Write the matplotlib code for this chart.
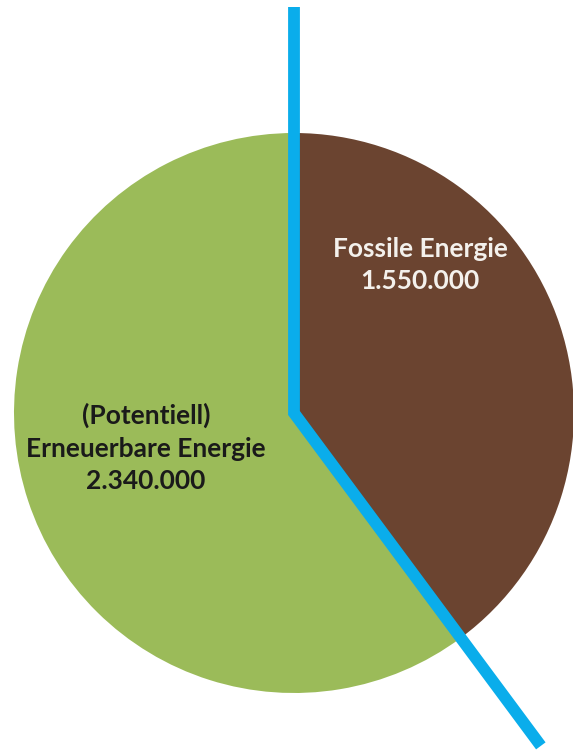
import numpy as np
import matplotlib
matplotlib.use("Agg")
import matplotlib.pyplot as plt

categories = ["Fossile Energie", "(Potentiell)\nErneuerbare Energie"]
values = [1550000, 2340000]
value_labels = ["1.550.000", "2.340.000"]
colors = ["#6B4430", "#9BBB59"]
text_colors = ["#F4F1EC", "#1A1A1A"]

W, H = 573, 751
fig = plt.figure(figsize=(W / 100, H / 100), dpi=100)
ax = fig.add_axes([0, 0, 1, 1])

cx, cy, R = 294, 338, 280
wedges, _ = ax.pie(values, colors=colors, startangle=90, counterclock=False,
                   center=(cx, cy), radius=R, frame=True,
                   wedgeprops=dict(linewidth=0))
ax.set_xlim(0, W)
ax.set_ylim(0, H)
ax.set_aspect("auto")
ax.axis("off")

# blue divider line: vertical from top through centre, then along wedge boundary
frac = values[0] / sum(values)
ang = np.deg2rad(90 - 360 * frac)
top_len = 1.45 * R
bot_len = 1.48 * R
xs = [cx, cx, cx + bot_len * np.cos(ang)]
ys = [cy + top_len, cy, cy + bot_len * np.sin(ang)]
ax.plot(xs, ys, color="#0AADEB", linewidth=8.5, solid_joinstyle="miter",
        solid_capstyle="butt", zorder=5)

font = dict(family=["Lato", "DejaVu Sans"], fontweight="bold", fontsize=19)
ax.text(420, 486, categories[0] + "\n" + value_labels[0], ha="center", va="center",
        color=text_colors[0], linespacing=1.42, zorder=6, **font)
ax.text(146, 303, categories[1] + "\n" + value_labels[1], ha="center", va="center",
        color=text_colors[1], linespacing=1.42, zorder=6, **font)

fig.savefig("out.png", dpi=100)
